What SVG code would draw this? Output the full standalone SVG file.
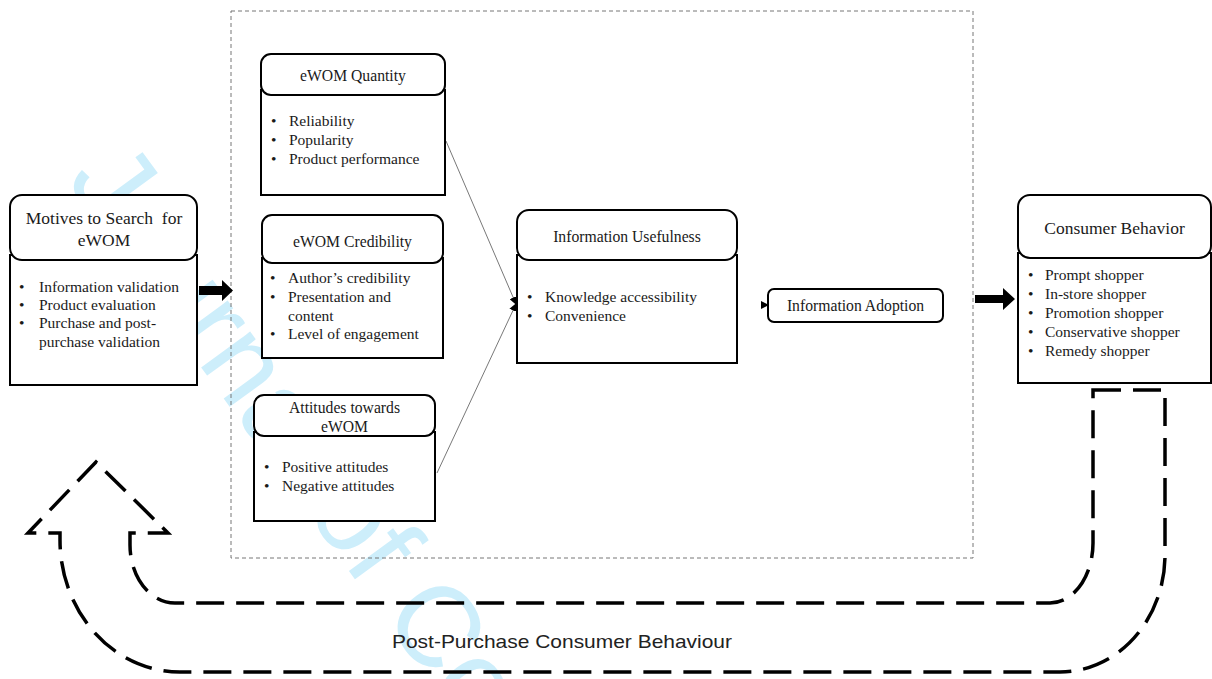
<svg xmlns="http://www.w3.org/2000/svg" width="1212" height="679" viewBox="0 0 1212 679">
<style>
  .box { fill: #fff; stroke: #000; stroke-width: 2; }
  .ttl { font-family: "Liberation Serif", "Times New Roman", serif; font-size: 15.7px; fill: #1a1a1a; text-anchor: middle; }
  .ttl16 { font-family: "Liberation Serif", "Times New Roman", serif; font-size: 17.5px; fill: #1a1a1a; text-anchor: middle; }
  .txt { font-family: "Liberation Serif", "Times New Roman", serif; font-size: 15.5px; fill: #1a1a1a; }
  .thin { stroke: #555; stroke-width: 0.8; fill: none; }
  .band { fill: none; stroke: #000; stroke-width: 3.5; stroke-dasharray: 28 12; }
  .wm { font-family: "Liberation Sans", Arial, sans-serif; font-size: 115px; fill: #cdeefb; }
</style>
<defs>
  <marker id="ah" markerWidth="8" markerHeight="8" refX="7" refY="4" orient="auto" markerUnits="userSpaceOnUse">
    <path d="M0,0 L8,4 L0,8 Z" fill="#000"/>
  </marker>
</defs>
<rect width="1212" height="679" fill="#fff"/>
<text class="wm" transform="translate(65,180) rotate(54)">Journal of Consumer</text>

<rect x="231" y="11" width="742" height="547" fill="none" stroke="#777" stroke-width="1" stroke-dasharray="4 3"/>

<g id="connectors">
  <polygon points="199,286 222,286 222,280 233,290.5 222,301 222,295 199,295" fill="#000"/>
  <polygon points="975,295 1003,295 1003,288 1015,299 1003,310 1003,303 975,303" fill="#000"/>
  <path class="thin" d="M446,141 L516,304" marker-end="url(#ah)"/>
  <path class="thin" d="M437,473 L516,304" marker-end="url(#ah)"/>
  <path class="thin" d="M761,305 L768,305" marker-end="url(#ah)"/>
  <path class="band" d="M1093,390 L1165,390 L1165,555 A105,117 0 0 1 1060,672 L180,672 A120,132 0 0 1 60,540 L60,533 L28,533 L96,462 L168,533 L130,533 L130,545 A45,58 0 0 0 175,603 L1050,603 A43,60 0 0 0 1093,543 Z"/>
</g>

<g id="motives">
  <rect class="box" x="10" y="255" width="187" height="130"/>
  <rect class="box" x="10" y="195" width="187" height="65" rx="12"/>
  <text class="ttl16" x="104" y="224" xml:space="preserve">Motives to Search  for</text>
  <text class="ttl16" x="104" y="246">eWOM</text>
  <text class="txt" x="19" y="292">•</text><text class="txt" x="39" y="292">Information validation</text>
  <text class="txt" x="19" y="310">•</text><text class="txt" x="39" y="310">Product evaluation</text>
  <text class="txt" x="19" y="328">•</text><text class="txt" x="39" y="328">Purchase and post-</text>
  <text class="txt" x="39" y="347">purchase validation</text>
</g>

<g id="quantity">
  <rect class="box" x="261" y="90" width="184" height="105"/>
  <rect class="box" x="261" y="54" width="184" height="41" rx="10"/>
  <text class="ttl" x="353" y="81">eWOM Quantity</text>
  <text class="txt" x="271" y="126">•</text><text class="txt" x="289" y="126">Reliability</text>
  <text class="txt" x="271" y="145">•</text><text class="txt" x="289" y="145">Popularity</text>
  <text class="txt" x="271" y="164">•</text><text class="txt" x="289" y="164">Product performance</text>
</g>

<g id="credibility">
  <rect class="box" x="262" y="258" width="181" height="100"/>
  <rect class="box" x="262" y="215" width="181" height="48" rx="10"/>
  <text class="ttl" x="352.5" y="247">eWOM Credibility</text>
  <text class="txt" x="270" y="283">•</text><text class="txt" x="288" y="283">Author’s credibility</text>
  <text class="txt" x="270" y="302">•</text><text class="txt" x="288" y="302">Presentation and</text>
  <text class="txt" x="288" y="321">content</text>
  <text class="txt" x="270" y="339">•</text><text class="txt" x="288" y="339">Level of engagement</text>
</g>

<g id="attitudes">
  <rect class="box" x="254" y="432" width="181" height="89"/>
  <rect class="box" x="254" y="395" width="181" height="41" rx="10"/>
  <text class="ttl" x="344.5" y="413">Attitudes towards</text>
  <text class="ttl" x="344.5" y="432">eWOM</text>
  <text class="txt" x="264" y="472">•</text><text class="txt" x="282" y="472">Positive attitudes</text>
  <text class="txt" x="264" y="491">•</text><text class="txt" x="282" y="491">Negative attitudes</text>
</g>

<g id="usefulness">
  <rect class="box" x="517" y="255" width="220" height="108"/>
  <rect class="box" x="517" y="210" width="220" height="50" rx="12"/>
  <text class="ttl" x="627" y="242">Information Usefulness</text>
  <text class="txt" x="527" y="302">•</text><text class="txt" x="545" y="302">Knowledge accessibility</text>
  <text class="txt" x="527" y="321">•</text><text class="txt" x="545" y="321">Convenience</text>
</g>

<g id="adoption">
  <rect class="box" x="768" y="289" width="175" height="33" rx="6"/>
  <text class="ttl" x="855.5" y="311">Information Adoption</text>
</g>

<g id="consumer">
  <rect class="box" x="1018" y="253" width="193" height="130"/>
  <rect class="box" x="1018" y="195" width="193" height="63" rx="12"/>
  <text class="ttl16" x="1114.5" y="234">Consumer Behavior</text>
  <text class="txt" x="1028" y="280">•</text><text class="txt" x="1045" y="280">Prompt shopper</text>
  <text class="txt" x="1028" y="299">•</text><text class="txt" x="1045" y="299">In-store shopper</text>
  <text class="txt" x="1028" y="318">•</text><text class="txt" x="1045" y="318">Promotion shopper</text>
  <text class="txt" x="1028" y="337">•</text><text class="txt" x="1045" y="337">Conservative shopper</text>
  <text class="txt" x="1028" y="356">•</text><text class="txt" x="1045" y="356">Remedy shopper</text>
</g>

<g id="post-purchase">
  <text x="392" y="648" textLength="340" lengthAdjust="spacingAndGlyphs" font-family="'Liberation Sans', Arial, sans-serif" font-size="19" fill="#222">Post-Purchase Consumer Behaviour</text>
</g>
</svg>
